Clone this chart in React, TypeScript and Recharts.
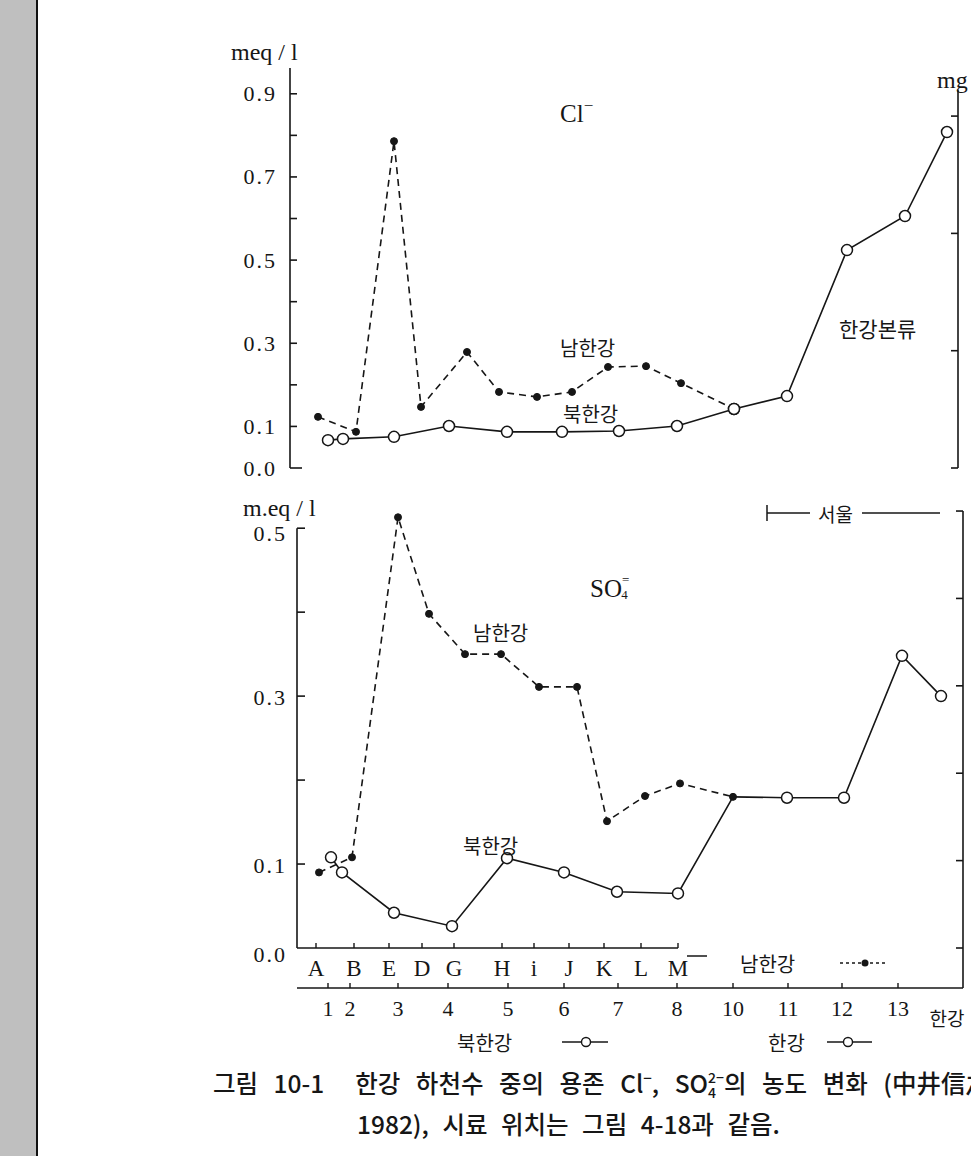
import React from 'react'
import { LineChart, Line, XAxis, YAxis, ReferenceLine } from 'recharts'

const INK = '#161616'
const SERIF = '"Liberation Serif", "DejaVu Serif", serif'
const KR = '"Noto Sans CJK KR", "Noto Sans", sans-serif'

// 정점 위치 (x 단위는 두 그래프 공통)
const letterStations = ['A', 'B', 'E', 'D', 'G', 'H', 'i', 'J', 'K', 'L', 'M']
const letterPos = [1.9, 5.7, 9.2, 12.5, 15.7, 20.5, 23.7, 27.2, 30.7, 34.4, 38.1]
const numberStations = ['1', '2', '3', '4', '5', '6', '7', '8', '10', '11', '12', '13', '한강']
const numberPos = [3.1, 5.3, 10.1, 15.1, 21.1, 26.7, 32.1, 38.0, 43.6, 49.1, 54.5, 60.1, 65.0]

// Cl- (meq/l)
const clSouthX = [2.1, 5.9, 9.7, 12.4, 17.0, 20.2, 24.0, 27.5, 31.1, 34.9, 38.4, 43.7]
const clSouthY = [0.123, 0.087, 0.786, 0.147, 0.279, 0.183, 0.171, 0.183, 0.243, 0.245, 0.204, 0.142]
const clNorthX = [3.1, 4.6, 9.7, 15.2, 21.0, 26.5, 32.2, 38.0, 43.7]
const clNorthY = [0.067, 0.07, 0.075, 0.101, 0.087, 0.087, 0.089, 0.101, 0.142]
const clMainX = [43.7, 49.0, 55.0, 60.8, 65.0]
const clMainY = [0.142, 0.173, 0.524, 0.606, 0.808]

// SO4= (meq/l)
const soSouthX = [2.2, 5.5, 10.1, 13.2, 16.8, 20.4, 24.2, 28.0, 31.0, 34.8, 38.3, 43.6]
const soSouthY = [0.09, 0.108, 0.513, 0.398, 0.35, 0.35, 0.311, 0.311, 0.151, 0.181, 0.196, 0.18]
const soNorthX = [3.4, 4.5, 9.7, 15.5, 21.0, 26.7, 32.0, 38.1, 43.6]
const soNorthY = [0.108, 0.09, 0.042, 0.026, 0.107, 0.09, 0.067, 0.065, 0.18]
const soMainX = [43.6, 49.0, 54.7, 60.5, 64.4]
const soMainY = [0.18, 0.179, 0.179, 0.348, 0.3]

const clTicks = [0, 0.1, 0.2, 0.3, 0.4, 0.5, 0.6, 0.7, 0.8, 0.9]
const clLabeled = [0, 1, 3, 5, 7, 9]
const soTicks = [0, 0.1, 0.2, 0.3, 0.4, 0.5]
const soLabeled = [0, 1, 3, 5]
const clMgTicks = [0, 10, 20, 30]
const soMgTicks = [0, 5, 10, 15, 20, 25]

const toPoints = (xs: number[], ys: number[]) => xs.map((x, i) => ({ x, y: ys[i] }))

const ClTick = (p: any) => {
  const v = p.payload.value
  const k = Math.round(v * 10)
  return (
    <g>
      <line x1={p.x} y1={p.y} x2={p.x + (k === 0 ? 12 : 7)} y2={p.y} stroke={INK} strokeWidth={1.6} />
      {clLabeled.includes(k) && (
        <text x={p.x - 13} y={p.y} textAnchor="end" dominantBaseline="central" fontFamily={SERIF} fontSize={22} letterSpacing={2} fill={INK}>
          {v.toFixed(1)}
        </text>
      )}
    </g>
  )
}

const SoTick = (p: any) => {
  const v = p.payload.value
  const k = Math.round(v * 10)
  return (
    <g>
      {k > 0 && <line x1={p.x} y1={p.y} x2={p.x + 8} y2={p.y} stroke={INK} strokeWidth={1.6} />}
      {soLabeled.includes(k) && (
        <text x={p.x - 10} y={p.y + (k === 0 ? 6 : k === 5 ? 5 : 1)} textAnchor="end" dominantBaseline="central" fontFamily={SERIF} fontSize={22} letterSpacing={2} fill={INK}>
          {v.toFixed(1)}
        </text>
      )}
    </g>
  )
}

const RightTick = (p: any) => (
  <line x1={p.x} y1={p.y} x2={p.x - 7} y2={p.y} stroke={INK} strokeWidth={1.6} />
)

const LetterTick = (p: any) => {
  const label = letterStations[p.index]
  return (
    <g>
      <line x1={p.x} y1={p.y} x2={p.x} y2={p.y - 5} stroke={INK} strokeWidth={1.4} />
      <text x={p.x} y={p.y + 20} textAnchor="middle" dominantBaseline="central" fontFamily={SERIF} fontSize={23} fill={INK}>
        {label}
      </text>
      {label === 'M' && <line x1={p.x + 9} y1={p.y + 8} x2={p.x + 29} y2={p.y + 8} stroke={INK} strokeWidth={1.5} />}
    </g>
  )
}

const NumTick = (p: any) => {
  if (p.index >= numberStations.length) {
    return <line x1={p.x} y1={p.y} x2={p.x} y2={p.y - 40} stroke={INK} strokeWidth={1.6} />
  }
  const label = numberStations[p.index]
  const isMain = label === '한강'
  return (
    <g>
      {!isMain && <line x1={p.x} y1={p.y} x2={p.x} y2={p.y - 5} stroke={INK} strokeWidth={1.4} />}
      <text x={p.x} y={p.y + (isMain ? 29 : 20)} textAnchor="middle" dominantBaseline="central" fontFamily={isMain ? KR : SERIF} fontSize={isMain ? 19 : 22} fill={INK}>
        {label}
      </text>
    </g>
  )
}

const filledDot = (p: any) => <circle key={`f${p.index}`} cx={p.cx} cy={p.cy} r={3.5} fill={INK} stroke={INK} strokeWidth={1} />
const openDot = (skip: number) => (p: any) =>
  p.index === skip ? <g key={`o${p.index}`} /> : (
    <circle key={`o${p.index}`} cx={p.cx} cy={p.cy} r={5.5} fill="#fff" stroke={INK} strokeWidth={1.5} />
  )

const lineCommon = {
  type: 'linear' as const,
  dataKey: 'y',
  xAxisId: 'a',
  yAxisId: 'meq',
  stroke: INK,
  strokeWidth: 1.6,
  activeDot: false,
  isAnimationActive: false,
}

function ClChart() {
  return (
    <LineChart width={971} height={500} margin={{ top: 68, right: 0, bottom: 32, left: 230 }}>
      <XAxis xAxisId="a" type="number" dataKey="x" domain={[-0.7, 66.1]} allowDataOverflow hide />
      <YAxis yAxisId="meq" width={60} domain={[0, 0.962]} allowDataOverflow ticks={clTicks} interval={0}
        tickLine={false} tickSize={0} tickMargin={0} axisLine={{ stroke: INK, strokeWidth: 1.6 }} tick={(p: any) => <ClTick {...p} />} />
      <YAxis yAxisId="mg" orientation="right" width={13} domain={[0, 34.1]} allowDataOverflow ticks={clMgTicks} interval={0}
        tickLine={false} tickSize={0} tickMargin={0} axisLine={false} tick={(p: any) => <RightTick {...p} />} />
      <ReferenceLine xAxisId="a" yAxisId="mg" ifOverflow="visible" stroke={INK} strokeWidth={1.6}
        segment={[{ x: 66.1, y: 0 }, { x: 66.1, y: 32.2 }]} />
      <Line {...lineCommon} data={toPoints(clSouthX, clSouthY)} strokeDasharray="7 5" dot={filledDot} />
      <Line {...lineCommon} data={toPoints(clNorthX, clNorthY)} dot={openDot(-1)} />
      <Line {...lineCommon} data={toPoints(clMainX, clMainY)} dot={openDot(-1)} />
    </LineChart>
  )
}

function SoChart() {
  return (
    <LineChart width={971} height={590} margin={{ top: 23, right: 0, bottom: 22, left: 237 }}>
      <XAxis xAxisId="num" type="number" dataKey="x" domain={[0, 66.6]} allowDataOverflow height={60}
        ticks={[...numberPos, 66.6]} interval={0} axisLine={{ stroke: INK, strokeWidth: 1.6 }} tickLine={false}
        tickSize={0} tickMargin={0} tick={(p: any) => <NumTick {...p} />} />
      <XAxis xAxisId="a" type="number" dataKey="x" domain={[0, 66.6]} allowDataOverflow height={40}
        ticks={letterPos} interval={0} axisLine={false} tickLine={false} tickSize={0} tickMargin={0}
        tick={(p: any) => <LetterTick {...p} />} />
      <YAxis yAxisId="meq" width={60} domain={[0, 0.53]} allowDataOverflow ticks={soTicks} interval={0}
        tickLine={false} tickSize={0} tickMargin={0} axisLine={false} tick={(p: any) => <SoTick {...p} />} />
      <YAxis yAxisId="mg" orientation="right" width={8} domain={[0, 25.46]} allowDataOverflow ticks={soMgTicks} interval={0}
        tickLine={false} tickSize={0} tickMargin={0} axisLine={false} tick={(p: any) => <RightTick {...p} />} />
      <ReferenceLine xAxisId="a" yAxisId="meq" ifOverflow="visible" stroke={INK} strokeWidth={1.6}
        segment={[{ x: 0, y: 0 }, { x: 0, y: 0.5 }]} />
      <ReferenceLine xAxisId="a" yAxisId="meq" ifOverflow="visible" stroke={INK} strokeWidth={1.6}
        segment={[{ x: 0, y: 0 }, { x: letterPos[letterPos.length - 1], y: 0 }]} />
      <ReferenceLine xAxisId="a" yAxisId="mg" ifOverflow="visible" stroke={INK} strokeWidth={1.6}
        segment={[{ x: 66.6, y: 0 }, { x: 66.6, y: 25 }]} />
      <Line {...lineCommon} data={toPoints(soSouthX, soSouthY)} strokeDasharray="7 5" dot={filledDot} />
      <Line {...lineCommon} data={toPoints(soNorthX, soNorthY)} dot={openDot(soNorthX.length - 1)} />
      <Line {...lineCommon} data={toPoints(soMainX, soMainY)} dot={openDot(0)} />
    </LineChart>
  )
}

const T = (props: any) => <text fill={INK} dominantBaseline="central" {...props} />

function Overlay() {
  return (
    <svg width={971} height={1156} style={{ position: 'absolute', left: 0, top: 0, pointerEvents: 'none' }}>
      <T x={231} y={52} fontFamily={SERIF} fontSize={24}>meq / l</T>
      <T x={937} y={80} fontFamily={SERIF} fontSize={24}>mg</T>
      <T x={560} y={113} fontFamily={SERIF} fontSize={25}>
        Cl<tspan fontSize={17} dy={-8}>−</tspan>
      </T>
      <T x={560} y={347} fontFamily={KR} fontSize={20}>남한강</T>
      <T x={563} y={413} fontFamily={KR} fontSize={20}>북한강</T>
      <T x={839} y={328} fontFamily={KR} fontSize={21}>한강본류</T>

      <T x={243} y={508} fontFamily={SERIF} fontSize={24}>m.eq / l</T>
      <T x={590} y={588} fontFamily={SERIF} fontSize={25}>
        SO<tspan fontSize={13} dy={-9}>=</tspan><tspan fontSize={13} dx={-8} dy={15}>4</tspan>
      </T>
      <T x={473} y={632} fontFamily={KR} fontSize={20}>남한강</T>
      <T x={463} y={845} fontFamily={KR} fontSize={20}>북한강</T>

      <line x1={767} y1={505} x2={767} y2={521} stroke={INK} strokeWidth={1.5} />
      <line x1={767} y1={513} x2={810} y2={513} stroke={INK} strokeWidth={1.3} />
      <T x={818} y={513} fontFamily={KR} fontSize={19}>서울</T>
      <line x1={862} y1={513} x2={940} y2={513} stroke={INK} strokeWidth={1.3} />

      <T x={740} y={963} fontFamily={KR} fontSize={20}>남한강</T>
      <line x1={840} y1={963} x2={888} y2={963} stroke={INK} strokeWidth={1.4} strokeDasharray="3 3" />
      <circle cx={865} cy={963} r={3.5} fill={INK} />

      <T x={457} y={1042} fontFamily={KR} fontSize={20}>북한강</T>
      <line x1={562} y1={1042} x2={608} y2={1042} stroke={INK} strokeWidth={1.4} />
      <circle cx={586} cy={1042} r={4.5} fill="#fff" stroke={INK} strokeWidth={1.4} />
      <T x={768} y={1042} fontFamily={KR} fontSize={20}>한강</T>
      <line x1={827} y1={1042} x2={872} y2={1042} stroke={INK} strokeWidth={1.4} />
      <circle cx={848} cy={1042} r={4.5} fill="#fff" stroke={INK} strokeWidth={1.4} />

      <text x={213} y={1093} fontFamily={KR} fontSize={24.5} fontWeight={500} fill={INK} wordSpacing={10} style={{ whiteSpace: 'pre' }}>
        그림 10-1  한강 하천수 중의 용존 Cl<tspan fontSize={15} dy={-9}>−</tspan>
        <tspan dy={9}>, SO</tspan>
        <tspan fontSize={14} dy={-10}>2−</tspan>
        <tspan fontSize={14} dx={-16} dy={15}>4</tspan>
        <tspan dy={-5} dx={8}>의 농도 변화 (中井信之 외,</tspan>
      </text>
      <text x={357} y={1134} fontFamily={KR} fontSize={24.5} fontWeight={500} fill={INK} wordSpacing={8} style={{ whiteSpace: 'pre' }}>
        1982), 시료 위치는 그림 4-18과 같음.
      </text>
    </svg>
  )
}

export default function App() {
  return (
    <div style={{ position: 'relative', width: 971, height: 1156, overflow: 'hidden', background: '#fff' }}>
      <style>{'body{margin:0}'}</style>
      <div style={{ position: 'absolute', left: 0, top: 0, width: 36, height: 1156, background: '#bfbfbf', borderRight: '2px solid #111' }} />
      <div style={{ position: 'absolute', left: 0, top: 0 }}>
        <ClChart />
      </div>
      <div style={{ position: 'absolute', left: 0, top: 480 }}>
        <SoChart />
      </div>
      <Overlay />
    </div>
  )
}
